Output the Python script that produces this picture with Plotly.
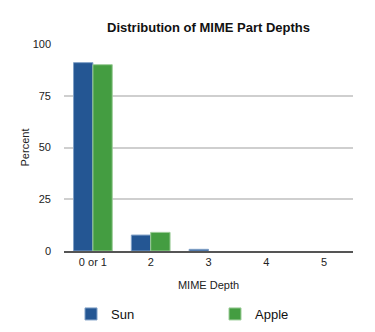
import plotly.graph_objects as go

categories = ["0 or 1", "2", "3", "4", "5"]
sun = [91.0, 7.7, 0.8, 0.0, 0.0]
apple = [90.0, 9.0, 0.0, 0.0, 0.0]
y_ticks = [0, 25, 50, 75, 100]

FONT = "Liberation Sans, Arial, Helvetica, sans-serif"


def edge_widths(values):
    # no outline on empty bars, so zero values stay invisible
    return [1 if v > 0 else 0 for v in values]


fig = go.Figure()
fig.add_trace(go.Bar(
    name="Sun", x=categories, y=sun,
    marker=dict(color="#245693",
                line=dict(color="#7f9fc6", width=edge_widths(sun))),
))
fig.add_trace(go.Bar(
    name="Apple", x=categories, y=apple,
    marker=dict(color="#449d41",
                line=dict(color="#9ccc98", width=edge_widths(apple))),
))

fig.update_layout(
    width=375, height=332,
    margin=dict(l=64, r=22, t=44, b=81, autoexpand=False),
    paper_bgcolor="white", plot_bgcolor="white",
    barmode="group", bargap=0.33, bargroupgap=0.0,
    font=dict(family=FONT, size=11, color="#222"),
    title=dict(text="<b>Distribution of MIME Part Depths</b>",
               x=0.5, xref="paper", xanchor="center",
               y=1 - 27 / 332, yanchor="middle",
               font=dict(size=13, color="#111")),
    showlegend=True,
    legend=dict(orientation="h", x=71 / 375, xref="container", xanchor="left",
                y=1 - 314 / 332, yref="container", yanchor="middle",
                font=dict(size=13, color="#111"),
                entrywidth=99, entrywidthmode="pixels",
                bgcolor="rgba(0,0,0,0)"),
)
fig.update_xaxes(
    showline=True, linecolor="#555", linewidth=2,
    ticks="", tickfont=dict(size=11, color="#222"),
    title=dict(text="MIME Depth", font=dict(size=11, color="#222"), standoff=14),
    showgrid=False,
)
fig.update_yaxes(
    range=[0, 100], tickvals=y_ticks, ticks="",
    showgrid=True, gridcolor="#cfcfcf", gridwidth=1.5,
    zeroline=False, showline=False,
    tickfont=dict(size=11, color="#222"), ticklabelstandoff=12,
    title=dict(text="Percent", font=dict(size=11, color="#222"), standoff=0),
)

fig.write_html("out.html")
